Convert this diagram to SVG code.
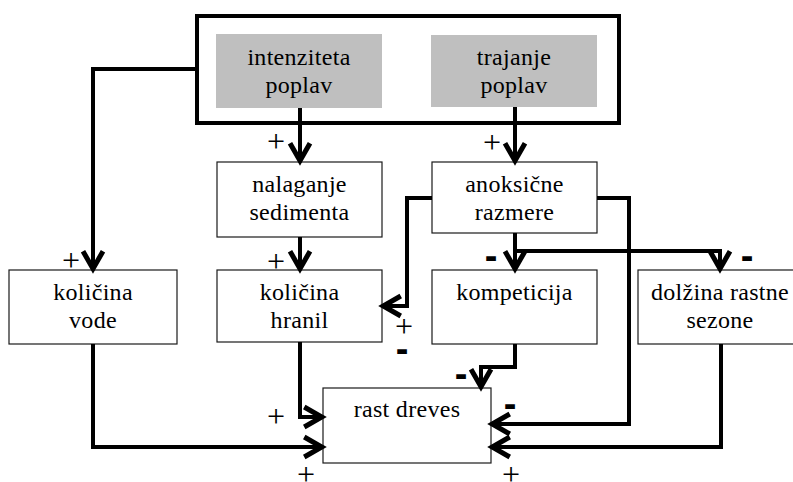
<svg xmlns="http://www.w3.org/2000/svg" width="793" height="482" viewBox="0 0 793 482">
<defs>
<style>
.box{fill:#fff;stroke:#1a1a1a;stroke-width:1.2}
.src{fill:#bfbfbf;stroke:none}
.t{font-family:'Liberation Serif','DejaVu Serif',serif;font-size:24px;fill:#000;text-anchor:middle;letter-spacing:0.3px}
.c{fill:none;stroke:#000;stroke-width:4;stroke-linejoin:miter}
.p{font-family:'Liberation Serif','DejaVu Serif',serif;font-size:32px;fill:#000;text-anchor:middle}
.m{font-family:'Liberation Sans',Arial,sans-serif;font-weight:bold;font-size:38px;fill:#000;text-anchor:middle}
</style>
<marker id="ah" markerUnits="userSpaceOnUse" markerWidth="30" markerHeight="30" refX="15" refY="0" orient="auto" viewBox="-2 -12 24 24" overflow="visible">
<path d="M0,-8 L14,0 L0,8" fill="none" stroke="#000" stroke-width="4" stroke-linejoin="miter"/>
</marker>
</defs>
<rect x="197" y="16" width="422" height="107" fill="none" stroke="#000" stroke-width="4"/>
<g id="intenziteta"><rect class="src" x="216" y="34" width="166" height="74"/><text class="t" x="299" y="65">intenziteta</text><text class="t" x="299" y="93">poplav</text></g>
<g id="trajanje"><rect class="src" x="431" y="35" width="166" height="72"/><text class="t" x="514" y="65">trajanje</text><text class="t" x="514" y="93">poplav</text></g>
<g id="nalaganje"><rect class="box" x="217" y="162" width="165" height="75"/><text class="t" x="299.5" y="192">nalaganje</text><text class="t" x="299.5" y="220">sedimenta</text></g>
<g id="anoksicne"><rect class="box" x="432" y="162" width="165" height="71"/><text class="t" x="514.5" y="192">anoksične</text><text class="t" x="514.5" y="220">razmere</text></g>
<g id="vode"><rect class="box" x="9" y="270" width="168" height="74"/><text class="t" x="93" y="300">količina</text><text class="t" x="93" y="328">vode</text></g>
<g id="hranil"><rect class="box" x="217" y="270" width="165" height="72"/><text class="t" x="299.5" y="300">količina</text><text class="t" x="299.5" y="328">hranil</text></g>
<g id="kompeticija"><rect class="box" x="432" y="270" width="165" height="74"/><text class="t" x="514.5" y="300">kompeticija</text></g>
<g id="dolzina"><rect class="box" x="638" y="270" width="165" height="74"/><text class="t" x="720" y="300">dolžina rastne</text><text class="t" x="720" y="328">sezone</text></g>
<g id="rast"><rect class="box" x="323" y="388" width="168" height="75"/><text class="t" x="407" y="417">rast dreves</text></g>
<g id="connectors">
<path class="c" marker-end="url(#ah)" d="M300,108 V162"/>
<path class="c" marker-end="url(#ah)" d="M515,107 V162"/>
<path class="c" marker-end="url(#ah)" d="M197,69 H93 V270"/>
<path class="c" marker-end="url(#ah)" d="M300,237 V270"/>
<path class="c" marker-end="url(#ah)" d="M515,233 V270"/>
<path class="c" marker-end="url(#ah)" d="M515,251 H720 V270"/>
<path class="c" marker-end="url(#ah)" d="M432,198 H407 V306 H382"/>
<path class="c" marker-end="url(#ah)" d="M597,198 H629 V424 H491"/>
<path class="c" marker-end="url(#ah)" d="M515,344 V367 H481 V388"/>
<path class="c" marker-end="url(#ah)" d="M721,344 V447 H491"/>
<path class="c" marker-end="url(#ah)" d="M300,342 V417 H323"/>
<path class="c" marker-end="url(#ah)" d="M93,344 V447 H323"/>
</g>
<g id="labels">
<text class="p" x="276" y="152">+</text>
<text class="p" x="492" y="153">+</text>
<text class="p" x="71" y="271">+</text>
<text class="p" x="276" y="272">+</text>
<text class="m" x="491" y="269">-</text>
<text class="m" x="747" y="269">-</text>
<text class="p" x="404" y="337">+</text>
<text class="m" x="402" y="362">-</text>
<text class="m" x="461" y="387">-</text>
<text class="m" x="510" y="417">-</text>
<text class="p" x="276" y="427">+</text>
<text class="p" x="306" y="485">+</text>
<text class="p" x="511" y="485">+</text>
</g>
</svg>
